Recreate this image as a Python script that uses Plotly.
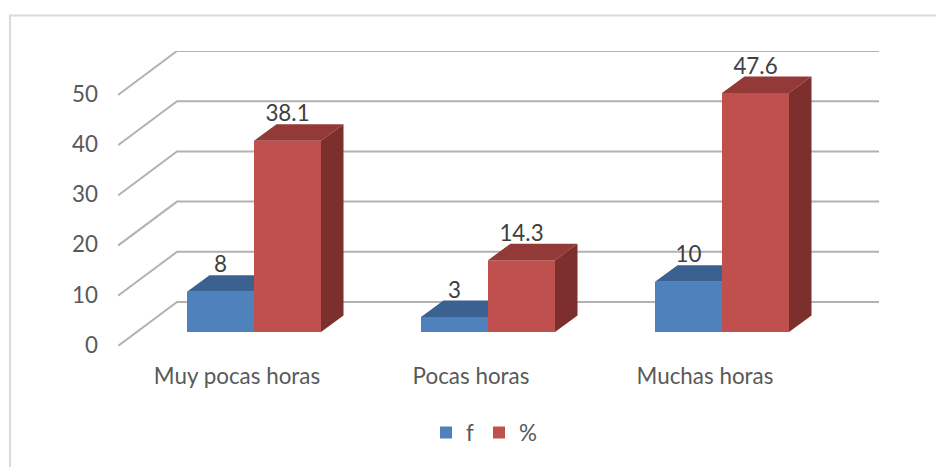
import plotly.graph_objects as go

categories = ["Muy pocas horas", "Pocas horas", "Muchas horas"]
f_values = [8, 3, 10]
pct_values = [38.1, 14.3, 47.6]
y_ticks = [0, 10, 20, 30, 40, 50]

W, H = 944, 467
PAGE = 8                        # default page margin of the browser
UX, UY = 234.0, 5.02            # pixels per category / per value unit
LEFT, FRONT_Y = 118.0 - PAGE, 346.0 - PAGE
WALL_DX, WALL_DY = 59 / UX, 44 / UY
BAR_SHIFT_X, BAR_SHIFT_Y = 19 / UX, 14 / UY
DEPTH_X, DEPTH_Y = 22.5 / UX, 16.5 / UY
LABEL_GAP = 8.5 / UY
BAR_W = 67 / UX
X_RANGE = [-0.5, 2.5 + WALL_DX]
Y_RANGE = [0, 50 + WALL_DY]
DOM_X = [LEFT / W, (LEFT + UX * (X_RANGE[1] - X_RANGE[0])) / W]
DOM_Y = [1 - FRONT_Y / H, 1 - (FRONT_Y - UY * Y_RANGE[1]) / H]
TEXT = "#595959"
FONT = "Lato"
FS = 22.4

fig = go.Figure()

# wall + floor grid lines
gx, gy = [], []
for v in y_ticks:
    gx += [X_RANGE[0], X_RANGE[0] + WALL_DX, X_RANGE[1], None]
    gy += [v, v + WALL_DY, v + WALL_DY, None]
fig.add_trace(go.Scatter(x=gx, y=gy, mode="lines", showlegend=False, hoverinfo="skip",
                         line=dict(color="#b2b2b2", width=2), cliponaxis=False))
# invisible carrier so the category axis shows its labels
fig.add_trace(go.Scatter(x=[0, 1, 2], y=[0, 0, 0], mode="markers", showlegend=False,
                         hoverinfo="skip", marker=dict(opacity=0)))


def add_series(name, values, offset, front, top, side, ax):
    xa, ya = f"x{ax}", f"y{ax}"
    fig.add_trace(go.Bar(name=name, x=[0, 1, 2], y=values, width=BAR_W, offset=offset,
                         marker=dict(color=front, line=dict(width=0)), xaxis=xa, yaxis=ya))
    for i, v in enumerate(values):
        x0 = i + offset
        x1 = x0 + BAR_W
        fig.add_trace(go.Scatter(
            x=[x0, x1, x1 + DEPTH_X, x0 + DEPTH_X, x0],
            y=[v, v, v + DEPTH_Y, v + DEPTH_Y, v],
            mode="lines", fill="toself", fillcolor=top, line=dict(width=0),
            showlegend=False, hoverinfo="skip", xaxis=xa, yaxis=ya))
        fig.add_trace(go.Scatter(
            x=[x1, x1 + DEPTH_X, x1 + DEPTH_X, x1, x1],
            y=[0, DEPTH_Y, v + DEPTH_Y, v, 0],
            mode="lines", fill="toself", fillcolor=side, line=dict(width=0),
            showlegend=False, hoverinfo="skip", xaxis=xa, yaxis=ya))


add_series("f", f_values, -BAR_W, "#4f81bd", "#3a6190", "#2f4f76", 2)
add_series("%", pct_values, 0, "#c0504d", "#933a38", "#7c2f2d", 3)

# data labels
for values, off in ((f_values, -BAR_W / 2), (pct_values, BAR_W / 2)):
    fig.add_trace(go.Scatter(
        x=[i + off for i in range(3)], y=[v + DEPTH_Y + LABEL_GAP for v in values],
        mode="text", text=[str(v) for v in values], textposition="middle center",
        textfont=dict(family=FONT, size=FS, color="#404040"), showlegend=False,
        hoverinfo="skip", xaxis="x3", yaxis="y3", cliponaxis=False))

bar_x = dict(domain=DOM_X, range=[X_RANGE[0] - BAR_SHIFT_X, X_RANGE[1] - BAR_SHIFT_X], visible=False)
bar_y = dict(domain=DOM_Y, range=[Y_RANGE[0] - BAR_SHIFT_Y, Y_RANGE[1] - BAR_SHIFT_Y], visible=False)

fig.update_layout(
    width=W, height=H, margin=dict(l=0, r=0, t=0, b=0, autoexpand=False),
    paper_bgcolor="white", plot_bgcolor="rgba(0,0,0,0)", barmode="overlay",
    font=dict(family=FONT, size=FS, color=TEXT),
    xaxis=dict(domain=DOM_X, range=X_RANGE, tickmode="array", tickvals=[0, 1, 2],
               ticktext=categories, showgrid=False, zeroline=False, showline=False,
               ticks="", ticklabelstandoff=15, ticklabelshift=2, tickfont=dict(size=FS, color=TEXT)),
    yaxis=dict(domain=DOM_Y, range=Y_RANGE, tickmode="array", tickvals=y_ticks,
               showgrid=False, zeroline=False, showline=False, ticks="",
               ticklabelstandoff=19, ticklabelshift=-1, tickfont=dict(size=FS, color=TEXT)),
    xaxis2=dict(overlaying="x", anchor="y2", **bar_x),
    yaxis2=dict(overlaying="y", anchor="x2", **bar_y),
    xaxis3=dict(overlaying="x", anchor="y3", **bar_x),
    yaxis3=dict(overlaying="y", anchor="x3", **bar_y),
    legend=dict(orientation="h", x=(484 - PAGE) / W, xanchor="center", y=1 - (433 - PAGE) / H,
                yanchor="middle", font=dict(size=FS, color=TEXT), bgcolor="rgba(0,0,0,0)",
                itemclick=False, itemdoubleclick=False),
    shapes=[dict(type="rect", xref="paper", yref="paper", x0=(10 - PAGE) / W, x1=1.02,
                 y0=-0.02, y1=1 - (15.5 - PAGE) / H, line=dict(color="#d9d9d9", width=2), layer="below")],
    showlegend=True,
)

fig.write_html("out.html", config=dict(displayModeBar=False))
